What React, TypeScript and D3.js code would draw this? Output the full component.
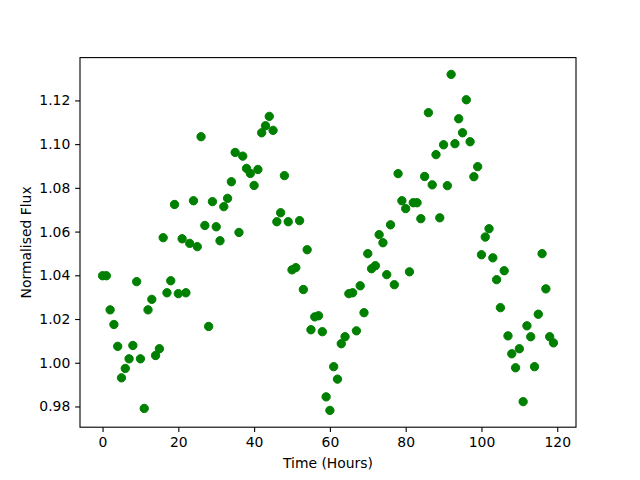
import React, { useRef, useEffect } from 'react';
import * as d3 from 'd3';

// time in hours
const hours = [
  0, 1, 2, 3, 4, 5, 6, 7, 8, 9, 10, 11, 12, 13, 14, 15, 16, 17, 18, 19,
  20, 21, 22, 23, 24, 25, 26, 27, 28, 29, 30, 31, 32, 33, 34, 35, 36, 37, 38, 39,
  40, 41, 42, 43, 44, 45, 46, 47, 48, 49, 50, 51, 52, 53, 54, 55, 56, 57, 58, 59,
  60, 61, 62, 63, 64, 65, 66, 67, 68, 69, 70, 71, 72, 73, 74, 75, 76, 77, 78, 79,
  80, 81, 82, 83, 84, 85, 86, 87, 88, 89, 90, 91, 92, 93, 94, 95, 96, 97, 98, 99,
  100, 101, 102, 103, 104, 105, 106, 107, 108, 109, 110, 111, 112, 113, 114, 115, 116, 117, 118, 119,
];

// normalised flux per hour
const flux = [
  1.0398, 1.0398, 1.0242, 1.0175, 1.0075, 0.9931, 0.9974, 1.0018, 1.0079, 1.0371,
  1.0018, 0.9791, 1.0242, 1.029, 1.0033, 1.0064, 1.0572, 1.032, 1.0375, 1.0724,
  1.0316, 1.0567, 1.032, 1.0546, 1.0741, 1.0531, 1.1034, 1.0628, 1.0166, 1.0737,
  1.0622, 1.0558, 1.0714, 1.0752, 1.0828, 1.0962, 1.0596, 1.0945, 1.0889, 1.0866,
  1.0811, 1.0884, 1.1052, 1.1084, 1.1127, 1.1063, 1.0645, 1.0686, 1.0856, 1.0645,
  1.0425, 1.0435, 1.065, 1.0335, 1.0517, 1.0151, 1.021, 1.0215, 1.0142, 0.9844,
  0.9782, 0.9982, 0.9925, 1.0087, 1.0119, 1.0316, 1.032, 1.0146, 1.0352, 1.0229,
  1.0499, 1.043, 1.0444, 1.0586, 1.0549, 1.0403, 1.0631, 1.0357, 1.0865, 1.0741,
  1.0705, 1.0416, 1.0732, 1.0732, 1.0659, 1.0852, 1.1144, 1.0814, 1.0952, 1.0663,
  1.0997, 1.081, 1.1319, 1.1002, 1.1116, 1.1052, 1.1203, 1.1011, 1.0851, 1.0897,
  1.0494, 1.0575, 1.0613, 1.048, 1.038, 1.0252, 1.0421, 1.0123, 1.0041, 0.9977,
  1.0064, 0.9822, 1.0169, 1.0119, 0.9982, 1.0222, 1.0499, 1.0338, 1.0119, 1.0091,
];

const xTicks = [0, 20, 40, 60, 80, 100, 120];
const yTicks = [0.98, 1.0, 1.02, 1.04, 1.06, 1.08, 1.1, 1.12];

const W = 640;
const H = 480;
const left = 80, right = 576, top = 57.6, bottom = 427.2;
const font = 'DejaVu Sans, sans-serif';

export default function App() {
  const ref = useRef<SVGSVGElement>(null);

  useEffect(() => {
    const svg = d3.select(ref.current);
    svg.selectAll('*').remove();

    // matplotlib style 5% padding
    const xe = d3.extent(hours) as [number, number];
    const ye = d3.extent(flux) as [number, number];
    const xp = (xe[1] - xe[0]) * 0.05;
    const yp = (ye[1] - ye[0]) * 0.05;

    const x = d3.scaleLinear().domain([xe[0] - xp, xe[1] + xp]).range([left, right]);
    const y = d3.scaleLinear().domain([ye[0] - yp, ye[1] + yp]).range([bottom, top]);

    const tick = 4.86;

    const xAxis = svg.append('g')
      .attr('transform', `translate(0,${bottom})`)
      .call(d3.axisBottom(x).tickValues(xTicks).tickFormat(d3.format('d')).tickSize(tick).tickPadding(4.86));
    const yAxis = svg.append('g')
      .attr('transform', `translate(${left},0)`)
      .call(d3.axisLeft(y).tickValues(yTicks).tickFormat(d3.format('.2f')).tickSize(tick).tickPadding(4.86));

    [xAxis, yAxis].forEach(a => {
      a.select('.domain').remove();
      a.selectAll('line').attr('stroke', '#000').attr('stroke-width', 1.1);
      a.selectAll('text')
        .attr('fill', '#000')
        .style('font-family', font)
        .style('font-size', '13.9px');
    });

    // points
    svg.append('g')
      .selectAll('circle')
      .data(hours)
      .join('circle')
      .attr('cx', d => x(d))
      .attr('cy', (d, i) => y(flux[i]))
      .attr('r', 4.17)
      .attr('fill', 'green')
      .attr('stroke', 'green')
      .attr('stroke-width', 1);

    // frame
    svg.append('rect')
      .attr('x', left)
      .attr('y', top)
      .attr('width', right - left)
      .attr('height', bottom - top)
      .attr('fill', 'none')
      .attr('stroke', '#000')
      .attr('stroke-width', 1.1);

    svg.append('text')
      .attr('x', (left + right) / 2)
      .attr('y', 468)
      .attr('text-anchor', 'middle')
      .style('font-family', font)
      .style('font-size', '13.9px')
      .text('Time (Hours)');

    svg.append('text')
      .attr('transform', `translate(31,${(top + bottom) / 2}) rotate(-90)`)
      .attr('text-anchor', 'middle')
      .style('font-family', font)
      .style('font-size', '13.9px')
      .text('Normalised Flux');
  }, []);

  return (
    <svg
      ref={ref}
      width={W}
      height={H}
      style={{ position: 'absolute', left: 0, top: 0, background: '#fff' }}
    />
  );
}
